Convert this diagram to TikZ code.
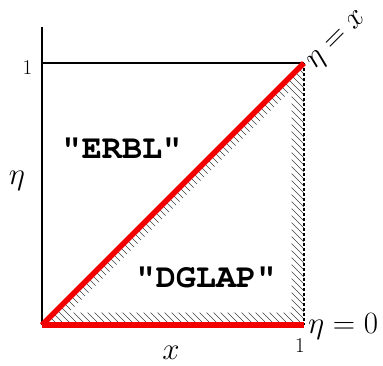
\RequirePackage{fix-cm}
\documentclass[tikz,border=0pt]{standalone}
\usepackage{fontspec}
\newfontfamily\monob{TeX Gyre Cursor}
\begin{document}
\begin{tikzpicture}[x=1pt,y=-1pt,
  axisline/.style={line width=1.2pt,black},
  redline/.style={line width=5.5pt,red!95!black,line cap=butt},
  hatchline/.style={line width=0.6pt,black!75},
  biglab/.style={font=\fontsize{31}{36}\selectfont,inner sep=1pt},
  smalllab/.style={font=\fontsize{21}{24}\selectfont,inner sep=1pt},
  region/.style={font=\fontsize{33.5}{38}\selectfont\monob\bfseries,inner sep=0pt}]
\useasboundingbox (0,0) rectangle (383,365);
\coordinate (O) at (42,325);
\coordinate (B) at (304,325);
\coordinate (C) at (304,63);
\coordinate (T) at (42,27);
\coordinate (L) at (42,63);
% hatching band
\def\hda{12.5}
\def\hdb{10}
\begin{scope}[even odd rule]
  \clip (O) -- (B) -- (C) -- cycle
    ({42+\hdb*1.4142+\hda},{325-\hda}) -- ({304-\hda},{325-\hda}) -- ({304-\hda},{63+\hdb*1.4142+\hda}) -- cycle;
  \foreach \i in {-400,-393,...,400}
    \draw[hatchline] (\i,0) -- (\i+400,400);
\end{scope}
% axes
\draw[axisline] (T) -- (O);
\draw[axisline] (L) -- (C);
\draw[line width=1.2pt,dash pattern=on 3pt off 2pt] (C) -- (B);
\draw[redline] (O) -- (C);
\draw[redline] (O) -- (B);
% labels
\node[smalllab] (one1) at (27.5,68) {1};
\node[smalllab] (one2) at (300,346) {1};
\node[biglab] (eta) at (17,181) {$\eta$};
\node[biglab] (xl) at (171,353) {$x$};
\node[biglab,anchor=west] (eta0) at (307,327) {$\eta=0$};
\node[biglab,rotate=45] (etax) at (338,41) {$\eta=x$};
\node[region] (erbl) at (122,148) {"ERBL"};
\node[region] (dglap) at (206,277) {"DGLAP"};
\end{tikzpicture}
\end{document}
